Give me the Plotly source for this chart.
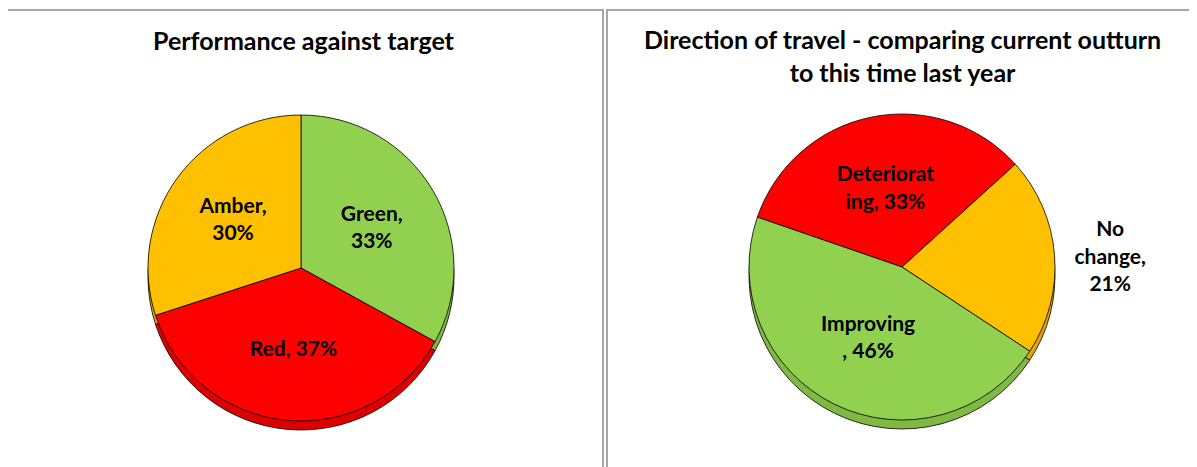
import plotly.graph_objects as go

# page body has an 8px margin: figure is placed at (8, 8)
OX, OY = 8, 8
W, H = 1197 - OX, 467 - OY

# Panel 1 data
perf_labels = ["Green", "Red", "Amber"]
perf_values = [33, 37, 30]
perf_text = ["Green,<br>33%", "Red, 37%", "Amber,<br>30%"]
perf_colors = ["#92D050", "#FF0000", "#FFC000"]
perf_rim = ["#7FB843", "#DD0000", "#DDA600"]

# Panel 2 data
dir_labels = ["Deteriorating", "No change", "Improving"]
dir_values = [33, 21, 46]
dir_text = ["Deteriorat<br>ing, 33%", "No<br>change,<br>21%", "Improving<br>, 46%"]
dir_colors = ["#FF0000", "#FFC000", "#92D050"]
dir_rim = ["#DD0000", "#DDA600", "#7FB843"]
dir_textpos = ["inside", "outside", "inside"]

titles = ["Performance against target",
          "Direction of travel - comparing current outturn<br>to this time last year"]

FONT = "Lato"
R = 153
RIM = 9


def px(x):
    return (x - OX) / W


def py(y):
    return (H - (y - OY)) / H


def dom(cx, cy, r, dy=0):
    return dict(x=[px(cx - r), px(cx + r)],
                y=[py(cy + r + dy), py(cy - r + dy)])


fig = go.Figure()

# 3D rim (back pies)
fig.add_trace(go.Pie(values=perf_values, labels=perf_labels, sort=False,
                     direction="clockwise", rotation=0,
                     marker=dict(colors=perf_rim, line=dict(color="black", width=0.8)),
                     textinfo="none", domain=dom(301, 268, R, RIM),
                     showlegend=False, hoverinfo="skip"))
fig.add_trace(go.Pie(values=dir_values, labels=dir_labels, sort=False,
                     direction="clockwise", rotation=-71,
                     marker=dict(colors=dir_rim, line=dict(color="black", width=0.8)),
                     textinfo="none", domain=dom(902, 267, R, RIM),
                     showlegend=False, hoverinfo="skip"))

# Top faces
fig.add_trace(go.Pie(values=perf_values, labels=perf_labels, sort=False,
                     direction="clockwise", rotation=0,
                     marker=dict(colors=perf_colors, line=dict(color="black", width=0.8)),
                     text=perf_text, textinfo="text", textposition="inside",
                     insidetextorientation="horizontal",
                     textfont=dict(family=FONT, size=21, color="black", weight="bold"),
                     domain=dom(301, 268, R), showlegend=False))
fig.add_trace(go.Pie(values=dir_values, labels=dir_labels, sort=False,
                     direction="clockwise", rotation=-71,
                     marker=dict(colors=dir_colors, line=dict(color="black", width=0.8)),
                     text=dir_text, textinfo="text", textposition=dir_textpos,
                     insidetextorientation="horizontal",
                     textfont=dict(family=FONT, size=21, color="black", weight="bold"),
                     domain=dom(902, 267, R), showlegend=False))

# Panel borders
for x0, x1 in [(5, 603), (607, 1205)]:
    fig.add_shape(type="rect", xref="paper", yref="paper",
                  x0=px(x0), x1=px(x1), y0=-0.05, y1=py(10),
                  line=dict(color="#A6A6A6", width=2), fillcolor="rgba(0,0,0,0)",
                  layer="below")

# Titles
fig.add_annotation(text=titles[0], x=px(304), y=py(40), xref="paper", yref="paper",
                   showarrow=False, xanchor="center", yanchor="middle",
                   font=dict(family=FONT, size=25, color="black", weight="bold"))
fig.add_annotation(text=titles[1], x=px(902), y=py(56), xref="paper", yref="paper",
                   showarrow=False, xanchor="center", yanchor="middle",
                   font=dict(family=FONT, size=25, color="black", weight="bold"))

fig.update_layout(width=W, height=H, margin=dict(l=0, r=0, t=0, b=0),
                  paper_bgcolor="white", plot_bgcolor="white")

fig.write_html("out.html")
